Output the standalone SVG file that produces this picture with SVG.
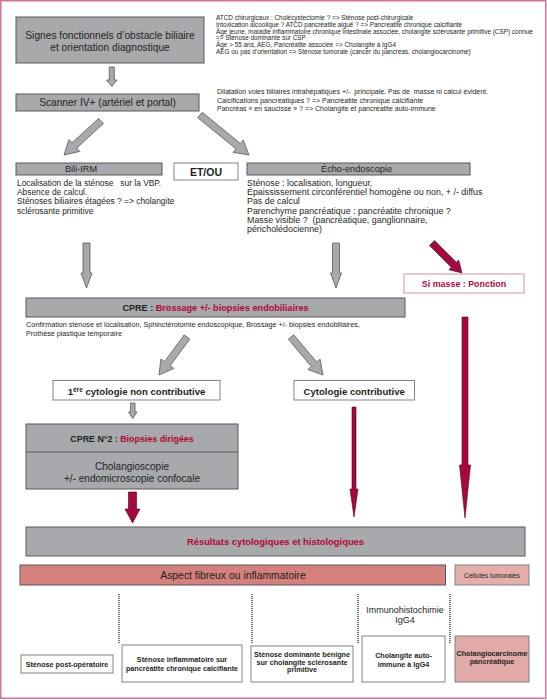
<svg xmlns="http://www.w3.org/2000/svg" width="547" height="700" viewBox="0 0 547 700">
<style>
text{font-family:"Liberation Sans",Arial,sans-serif;fill:#231f20}
.gbox{fill:#a7a9ac;stroke:#58595b;stroke-width:1}
.wbox{fill:#fff;stroke:#808285;stroke-width:1}
.lbl{font-size:10.2px;text-anchor:middle}
.sm{font-size:9.2px;text-anchor:middle}
.mid{text-anchor:middle}
.b{font-weight:bold}
.red{fill:#b1063a}
.n65{font-size:6.4px}
.n7{font-size:7px}
.n8{font-size:8.4px}
.n88{font-size:8.9px}
.bt{font-size:7.2px;font-weight:bold;text-anchor:middle}
.garr{fill:#a7a9ac;stroke:#58595b;stroke-width:0.8}
.rarr{fill:#a6093d;stroke:#4d0019;stroke-width:0.6}
.dot{stroke:#231f20;stroke-width:1.3;stroke-dasharray:1 1;fill:none}
</style>
<rect x="0.75" y="0.75" width="545" height="697.5" fill="none" stroke="#d27595" stroke-width="1.5"/>

<g id="signes">
<rect class="gbox" x="16" y="17" width="188" height="46"/>
<text class="lbl" x="110" y="38.5">Signes fonctionnels d’obstacle biliaire</text>
<text class="lbl" x="110" y="50.5">et orientation diagnostique</text>
</g>
<g id="notes-signes" class="n65">
<text x="216" y="20">ATCD chirurgicaux : Cholécystectomie ? =&gt; Sténose post-chirurgicale</text>
<text x="216" y="26.8">Intoxication alcoolique ? ATCD pancréatite aiguë ? =&gt; Pancréatite chronique calcifiante</text>
<text x="216" y="33.6">Âge jeune, maladie inflammatoire chronique intestinale associée, cholangite sclérosante primitive (CSP) connue</text>
<text x="216" y="40.4">=&gt; Sténose dominante sur CSP</text>
<text x="216" y="47.2">Âge &gt; 55 ans, AEG, Pancréatite associée =&gt; Cholangite à IgG4</text>
<text x="216" y="54">AEG ou pas d’orientation =&gt; Sténose tumorale (cancer du  pancréas, cholangiocarcinome)</text>
</g>

<g id="scanner">
<rect class="gbox" x="16" y="94" width="183" height="17"/>
<text class="lbl" x="107.5" y="106">Scanner IV+ (artériel et portal)</text>
</g>
<g id="notes-scanner" class="n7">
<text x="217" y="94" xml:space="preserve">Dilatation voies biliaires intrahépatiques +/-  principale. Pas de  masse ni calcul évident.</text>
<text x="217" y="102.5">Calcifications pancréatiques ? =&gt; Pancréatite chronique calcifiante</text>
<text x="217" y="111">Pancréas « en saucisse » ? =&gt; Cholangite et pancréatite auto-immune</text>
</g>

<g id="bili-irm">
<rect class="gbox" x="16" y="163" width="146" height="12"/>
<text class="sm" x="81" y="172.2">Bili-IRM</text>
</g>
<g id="notes-bili" class="n8">
<text x="17" y="186" xml:space="preserve">Localisation de la sténose   sur la VBP.</text>
<text x="17" y="195.2">Absence de calcul.</text>
<text x="17" y="204.4">Sténoses biliaires étagées ? =&gt; cholangite</text>
<text x="17" y="213.6">sclérosante primitive</text>
</g>

<g id="etou">
<rect class="wbox" x="174" y="163" width="64" height="17"/>
<text class="mid b" x="206" y="175.5" font-size="10.5">ET/OU</text>
</g>

<g id="echo">
<rect class="gbox" x="247" y="163" width="223" height="12"/>
<text class="sm" x="356.5" y="172.2">Écho-endoscopie</text>
</g>
<g id="notes-echo" class="n88">
<text x="247" y="186">Sténose : localisation, longueur,</text>
<text x="247" y="195.2">Épaississement circonférentiel homogène ou non, + /- diffus</text>
<text x="247" y="204.4">Pas de calcul</text>
<text x="247" y="213.6">Parenchyme pancréatique : pancréatite chronique ?</text>
<text x="247" y="222.8" xml:space="preserve">Masse visible ?  (pancréatique, ganglionnaire,</text>
<text x="247" y="232">péricholédocienne)</text>
</g>

<g id="si-masse">
<rect x="404" y="274" width="120" height="19" fill="#fff" stroke="#d88fa4" stroke-width="1"/>
<text class="mid b red" x="464" y="287" font-size="8.9">Si masse : Ponction</text>
</g>

<g id="cpre">
<rect class="gbox" x="26" y="298" width="379" height="19"/>
<text class="mid b" x="215.5" y="310.5" font-size="9.1">CPRE : <tspan class="red">Brossage +/- biopsies endobiliaires</tspan></text>
</g>
<g id="notes-cpre" style="font-size:7.2px">
<text x="26" y="327">Confirmation sténose et localisation, Sphinctérotomie endoscopique, Brossage +/- biopsies endobiliaires,</text>
<text x="26" y="335.5">Prothèse plastique temporaire</text>
</g>

<g id="cyto-non">
<rect class="wbox" x="53" y="380.5" width="167" height="19.5"/>
<text class="mid b" x="136.5" y="394.5" font-size="9.6">1<tspan font-size="6.5" dy="-3">ère</tspan><tspan dy="3"> cytologie non contributive</tspan></text>
</g>
<g id="cyto-contrib">
<rect class="wbox" x="294" y="380.5" width="120.5" height="19.5"/>
<text class="mid b" x="354.2" y="394.5" font-size="9.6">Cytologie contributive</text>
</g>

<g id="cpre2">
<rect class="gbox" x="26" y="424" width="212" height="65"/>
<line x1="26" y1="452" x2="238" y2="452" stroke="#58595b" stroke-width="1"/>
<text class="mid b" x="132" y="442" font-size="8.9">CPRE N°2 : <tspan class="red">Biopsies dirigées</tspan></text>
<text class="mid" x="132" y="470" font-size="10">Cholangioscopie</text>
<text class="mid" x="132" y="482" font-size="10">+/- endomicroscopie confocale</text>
</g>

<g id="resultats">
<rect class="gbox" x="26" y="527" width="499" height="29" stroke-width="1.2"/>
<text class="mid b red" x="275.5" y="545" font-size="9.4">Résultats cytologiques et histologiques</text>
</g>
<g id="aspect">
<rect x="20" y="565" width="425.5" height="20" fill="#d4817d" stroke="#58595b" stroke-width="1"/>
<text class="mid" x="233" y="578.5" font-size="10.4">Aspect fibreux ou inflammatoire</text>
</g>
<g id="cellules">
<rect x="455" y="565" width="74" height="20" fill="#e4aeab" stroke="#808285" stroke-width="1"/>
<text class="mid" x="492" y="578" font-size="6.8">Cellules tumorales</text>
</g>

<g id="immuno">
<text class="mid" x="405" y="613" font-size="9">Immunohistochimie</text>
<text class="mid" x="405" y="623" font-size="9">IgG4</text>
</g>

<g id="stenose-postop">
<rect class="wbox" x="21" y="655" width="92" height="18"/>
<text class="bt" x="67" y="666.5">Sténose post-opératoire</text>
</g>
<g id="stenose-inflam">
<rect class="wbox" x="122" y="645" width="120" height="37"/>
<text class="bt" x="182" y="662">Sténose inflammatoire sur</text>
<text class="bt" x="182" y="671">pancréatite chronique calcifiante</text>
</g>
<g id="stenose-dom">
<rect class="wbox" x="251" y="646" width="102" height="36"/>
<text class="bt" x="302" y="657">Sténose dominante bénigne</text>
<text class="bt" x="302" y="664.5">sur cholangite sclérosante</text>
<text class="bt" x="302" y="672">primitive</text>
</g>
<g id="cholangite-igg4">
<rect class="wbox" x="362" y="636" width="83" height="46"/>
<text class="bt" x="403.5" y="658">Cholangite auto-</text>
<text class="bt" x="403.5" y="666.5">immune à IgG4</text>
</g>
<g id="cholangiocarcinome">
<rect x="455" y="636" width="74" height="46" fill="#e2aba9" stroke="#808285" stroke-width="1"/>
<text class="bt" x="492" y="656">Cholangiocarcinome</text>
<text class="bt" x="492" y="664">pancréatique</text>
</g>

<g id="connectors">
<polygon class="garr" points="109.3,67 114.3,67 114.3,80 117,80 111.8,86.5 106.6,80 109.3,80"/>
<polygon class="garr" points="98.63,118.42 71.94,142.95 68.9,139.64 64,155 79.72,151.42 76.68,148.11 103.37,123.58"/>
<polygon class="garr" points="197.79,117.71 235.94,148.86 233.09,152.35 249,155 243.21,139.95 240.36,143.44 202.21,112.29"/>
<polygon class="garr" points="83,243 90,243 90,273 92,273 86.5,288 81,273 83,273"/>
<polygon class="garr" points="332.5,243 339.5,243 339.5,273 341.5,273 336,288 330.5,273 332.5,273"/>
<polygon class="garr" points="184.18,334.92 164.48,361.65 160.86,358.98 159,375 173.74,368.48 170.12,365.81 189.82,339.08"/>
<polygon class="garr" points="288.32,339.25 311.3,366.54 307.86,369.44 323,375 320.1,359.14 316.66,362.04 293.68,334.75"/>
<polygon class="garr" points="130.5,403 135,403 135,412 137,412 132.75,418.5 128.5,412 130.5,412"/>
<polygon class="rarr" points="429.5,245.5 451.3,267.3 448.9,269.7 462,273 458.7,259.9 456.3,262.3 434.5,240.5"/>
<polygon class="rarr" points="462,317 468,317 468,465 470.5,465 465,518 459.5,465 462,465"/>
<polygon class="rarr" points="352,407 356,407 356,489 358,489 354,517 350,489 352,489"/>
<polygon class="rarr" points="128.5,492 136.5,492 136.5,509 140,509 132.5,523 125,509 128.5,509"/>
<line class="dot" x1="119" y1="594" x2="119" y2="644"/>
<line class="dot" x1="252" y1="594" x2="252" y2="644"/>
<line class="dot" x1="358" y1="594" x2="358" y2="643"/>
<line class="dot" x1="450" y1="594" x2="450" y2="643"/>
</g>
</svg>
